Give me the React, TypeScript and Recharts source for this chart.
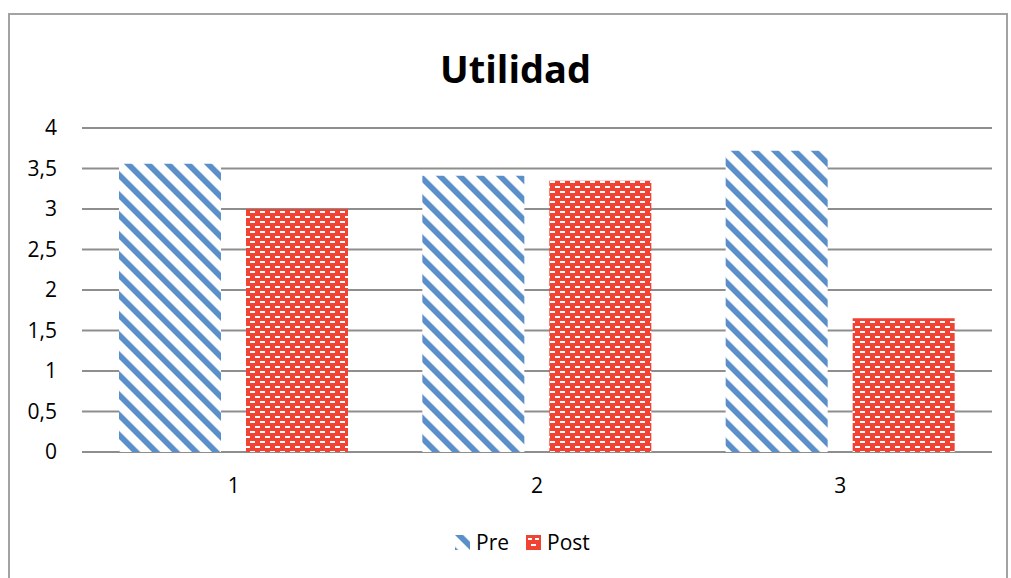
import { BarChart, Bar, XAxis, YAxis, CartesianGrid } from 'recharts';

const categories = ['1', '2', '3'];
const preValues = [3.56, 3.41, 3.72];
const postValues = [3.0, 3.35, 1.65];
const yTicks = [0, 0.5, 1, 1.5, 2, 2.5, 3, 3.5, 4];

const BLUE = '#5b8fca';
const RED = '#f04333';
const FONT = '"Open Sans", sans-serif';

const data = categories.map((name, i) => ({ name, pre: preValues[i], post: postValues[i] }));

function Patterns({ suffix }: { suffix: string }) {
  return (
    <defs>
      <pattern
        id={`stripes${suffix}`}
        patternUnits="userSpaceOnUse"
        width={14.14}
        height={10}
        patternTransform="rotate(-45)"
      >
        <rect width={14.14} height={10} fill="#fff" />
        <rect width={5.8} height={10} fill={BLUE} />
      </pattern>
      <pattern id={`bricks${suffix}`} patternUnits="userSpaceOnUse" width={10} height={10}>
        <rect width={10} height={10} fill={RED} />
        <rect x={0} y={1} width={5} height={2} fill="#fff" />
        <rect x={5} y={6} width={5} height={2} fill="#fff" />
      </pattern>
    </defs>
  );
}

const fmt = (v: number) => String(v).replace('.', ',');

export default function App() {
  return (
    <div style={{ position: 'absolute', left: 0, top: 0, width: 1011, height: 578, background: '#fff', overflow: 'hidden', fontFamily: FONT }}>
      <div
        style={{
          position: 'absolute',
          left: 8,
          top: 13,
          width: 1000,
          height: 640,
          border: '2px solid #a3a3a3',
          boxSizing: 'border-box',
        }}
      />
      <div
        style={{
          position: 'absolute',
          left: 0,
          width: 1011,
          top: 49,
          textAlign: 'center',
          paddingLeft: 20,
          boxSizing: 'border-box',
          fontSize: 38,
          lineHeight: '38px',
          fontWeight: 700,
          color: '#000',
        }}
      >
        Utilidad
      </div>
      <div style={{ position: 'absolute', left: 0, top: 0 }}>
        <BarChart
          width={1011}
          height={578}
          data={data}
          margin={{ top: 128, right: 19, bottom: 96, left: 0 }}
          barSize={102}
          barGap={25}
        >
          <Patterns suffix="" />
          <CartesianGrid vertical={false} stroke="#8e8e8e" strokeWidth={2} />
          <XAxis
            dataKey="name"
            axisLine={false}
            tickLine={false}
            height={30}
            tickMargin={20}
            tick={{ fill: '#000', fontSize: 21, fontFamily: FONT }}
          />
          <YAxis
            domain={[0, 4]}
            ticks={yTicks}
            width={82}
            axisLine={false}
            tickLine={false}
            tickMargin={19}
            tickFormatter={fmt}
            tick={{ fill: '#000', fontSize: 21, fontFamily: FONT }}
          />
          <Bar dataKey="pre" name="Pre" fill="url(#stripes)" isAnimationActive={false} />
          <Bar dataKey="post" name="Post" fill="url(#bricks)" isAnimationActive={false} />
        </BarChart>
      </div>
      <div
        style={{
          position: 'absolute',
          left: 455,
          top: 528,
          display: 'flex',
          alignItems: 'center',
          fontSize: 21,
          color: '#000',
          lineHeight: '28px',
        }}
      >
        <svg width={15} height={15} style={{ marginRight: 6 }}>
          <Patterns suffix="L" />
          <rect width={15} height={15} fill="url(#stripesL)" />
        </svg>
        <span style={{ marginRight: 17 }}>Pre</span>
        <svg width={15} height={15} style={{ marginRight: 6 }}>
          <rect width={15} height={15} fill={RED} />
          <rect x={2} y={3} width={4} height={2} fill="#fff" />
          <rect x={9} y={3} width={4} height={2} fill="#fff" />
          <rect x={5} y={9} width={5} height={2} fill="#fff" />
        </svg>
        <span>Post</span>
      </div>
    </div>
  );
}
